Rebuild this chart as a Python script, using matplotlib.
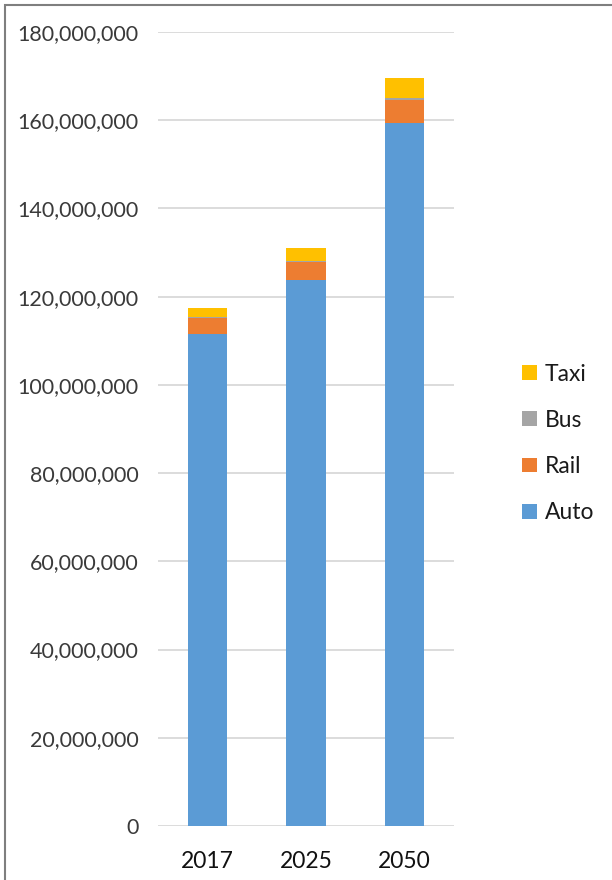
import matplotlib.pyplot as plt
from matplotlib.patches import Rectangle
from matplotlib.ticker import FuncFormatter

plt.rcParams['font.family'] = ['Lato', 'DejaVu Sans']

years = ['2017', '2025', '2050']
auto = [111.5e6, 123.8e6, 159.4e6]
rail = [3.7e6, 4.0e6, 5.1e6]
bus = [0.3e6, 0.3e6, 0.6e6]
taxi = [2.0e6, 2.9e6, 4.4e6]

series = [('Auto', auto, '#5B9BD5'),
          ('Rail', rail, '#ED7D31'),
          ('Bus', bus, '#A5A5A5'),
          ('Taxi', taxi, '#FFC000')]

fig = plt.figure(figsize=(6.12, 8.8), dpi=100)
ax = fig.add_axes([0.258, 0.0614, 0.484, 0.9022])

x = range(len(years))
bottom = [0, 0, 0]
handles = []
for name, vals, color in series:
    b = ax.bar(x, vals, 0.4, bottom=bottom, color=color, label=name, zorder=3)
    handles.append(b)
    bottom = [bt + v for bt, v in zip(bottom, vals)]

ax.set_xlim(-0.5, 2.5)
ax.set_ylim(0, 180e6)
ax.set_yticks(range(0, 180000001, 20000000))
ax.yaxis.set_major_formatter(FuncFormatter(lambda v, p: f'{int(v):,}'))
ax.set_xticks(list(x))
ax.set_xticklabels(years)
ax.grid(axis='y', color='#d9d9d9', linewidth=1.3, zorder=0)
for s in ax.spines.values():
    s.set_visible(False)
ax.tick_params(length=0, labelsize=15.5, labelcolor='#3a3a3a')
ax.tick_params(axis='y', pad=14)
ax.tick_params(axis='x', pad=18, labelsize=16.5, labelcolor='#111111')

# legend, reversed order like the original
fig.legend(handles[::-1], [s[0] for s in series][::-1], loc='center left',
           bbox_to_anchor=(0.82, 0.496), frameon=False, fontsize=16.5,
           handlelength=0.62, handleheight=0.62, handletextpad=0.35,
           labelspacing=1.1, labelcolor='#1a1a1a')

# outer frame
fig.patches.append(Rectangle((5 / 612, -0.1), 1.1, 1 - 5 / 880 + 0.1,
                             transform=fig.transFigure, fill=False,
                             edgecolor='#7f7f7f', linewidth=1.5))

fig.savefig('out.png', dpi=100)
